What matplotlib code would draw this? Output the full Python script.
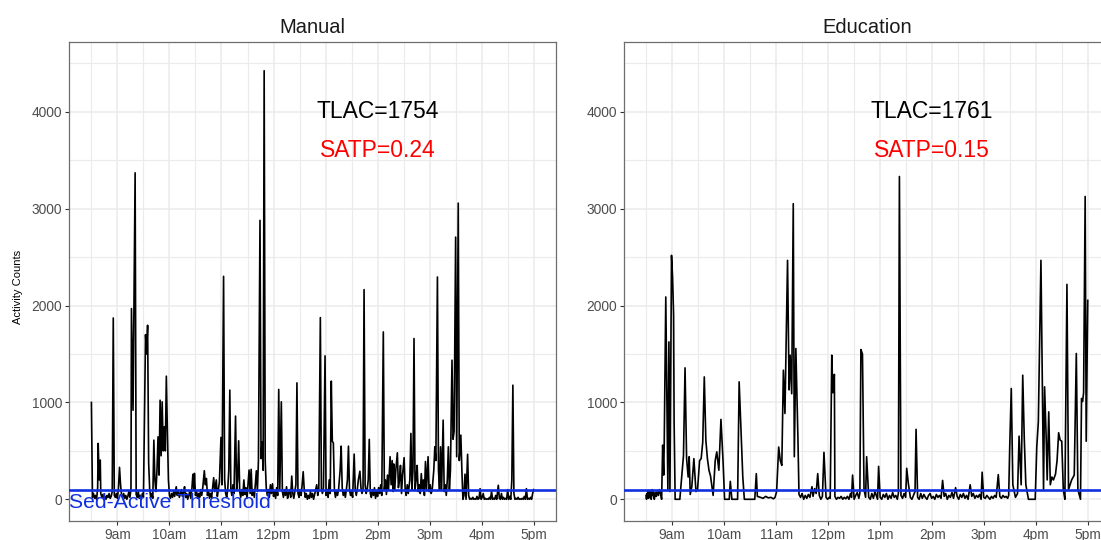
import matplotlib
matplotlib.use("Agg")
import matplotlib.pyplot as plt
from matplotlib.ticker import FixedLocator, MultipleLocator

plt.rcParams['font.family'] = ['Liberation Sans', 'DejaVu Sans']

# hours of day (decimal) and activity counts
manual_time = [
    8.50, 8.52, 8.54, 8.56, 8.58, 8.60, 8.62, 8.63, 8.65, 8.67, 8.68, 8.70, 8.72, 8.74, 8.76, 8.78,
    8.80, 8.82, 8.84, 8.86, 8.88, 8.90, 8.92, 8.94, 8.96, 8.98, 9.00, 9.02, 9.04, 9.06, 9.08, 9.10,
    9.12, 9.14, 9.16, 9.18, 9.20, 9.22, 9.24, 9.26, 9.27, 9.30, 9.34, 9.36, 9.38, 9.40, 9.42, 9.44,
    9.46, 9.48, 9.50, 9.54, 9.56, 9.58, 9.60, 9.62, 9.64, 9.66, 9.68, 9.70, 9.72, 9.74, 9.76, 9.78,
    9.80, 9.82, 9.84, 9.86, 9.88, 9.90, 9.92, 9.94, 9.96, 9.98, 10.00, 10.02, 10.04, 10.06, 10.08,
    10.10, 10.13, 10.15, 10.17, 10.19, 10.21, 10.23, 10.25, 10.27, 10.29, 10.31, 10.33, 10.35,
    10.37, 10.39, 10.41, 10.43, 10.45, 10.47, 10.48, 10.50, 10.52, 10.54, 10.56, 10.58, 10.60,
    10.62, 10.64, 10.67, 10.69, 10.71, 10.73, 10.75, 10.77, 10.79, 10.81, 10.83, 10.85, 10.87,
    10.90, 10.92, 10.94, 10.96, 10.99, 11.01, 11.04, 11.06, 11.08, 11.10, 11.12, 11.14, 11.16,
    11.18, 11.20, 11.22, 11.24, 11.27, 11.29, 11.31, 11.33, 11.35, 11.37, 11.39, 11.41, 11.43,
    11.45, 11.47, 11.49, 11.51, 11.53, 11.55, 11.57, 11.59, 11.61, 11.63, 11.65, 11.67, 11.69,
    11.71, 11.74, 11.76, 11.78, 11.80, 11.82, 11.84, 11.86, 11.88, 11.90, 11.92, 11.94, 11.96,
    11.98, 12.00, 12.02, 12.04, 12.06, 12.08, 12.10, 12.12, 12.15, 12.17, 12.19, 12.21, 12.23,
    12.25, 12.27, 12.29, 12.31, 12.33, 12.35, 12.37, 12.39, 12.41, 12.43, 12.45, 12.47, 12.49,
    12.51, 12.53, 12.55, 12.57, 12.59, 12.61, 12.63, 12.65, 12.67, 12.69, 12.71, 12.73, 12.75,
    12.77, 12.79, 12.81, 12.83, 12.85, 12.87, 12.90, 12.92, 12.94, 12.96, 12.99, 13.01, 13.03,
    13.05, 13.07, 13.09, 13.11, 13.13, 13.15, 13.17, 13.19, 13.21, 13.23, 13.25, 13.28, 13.30,
    13.32, 13.34, 13.36, 13.38, 13.40, 13.42, 13.44, 13.46, 13.48, 13.50, 13.52, 13.55, 13.57,
    13.59, 13.61, 13.63, 13.66, 13.68, 13.70, 13.72, 13.74, 13.76, 13.78, 13.80, 13.82, 13.84,
    13.86, 13.88, 13.90, 13.92, 13.94, 13.96, 13.98, 14.00, 14.02, 14.04, 14.06, 14.08, 14.11,
    14.13, 14.15, 14.17, 14.19, 14.21, 14.24, 14.26, 14.28, 14.30, 14.31, 14.33, 14.35, 14.38,
    14.40, 14.42, 14.44, 14.46, 14.48, 14.51, 14.53, 14.55, 14.57, 14.59, 14.62, 14.64, 14.66,
    14.68, 14.70, 14.72, 14.74, 14.76, 14.78, 14.80, 14.82, 14.84, 14.86, 14.88, 14.90, 14.92,
    14.94, 14.97, 14.99, 15.01, 15.03, 15.05, 15.08, 15.10, 15.12, 15.15, 15.17, 15.19, 15.21,
    15.23, 15.26, 15.28, 15.30, 15.32, 15.34, 15.36, 15.38, 15.40, 15.43, 15.45, 15.47, 15.50,
    15.52, 15.55, 15.57, 15.60, 15.62, 15.64, 15.66, 15.68, 15.70, 15.73, 15.75, 15.77, 15.79,
    15.81, 15.83, 15.85, 15.87, 15.89, 15.91, 15.93, 15.95, 15.97, 15.99, 16.01, 16.03, 16.05,
    16.07, 16.09, 16.11, 16.13, 16.15, 16.17, 16.19, 16.21, 16.23, 16.25, 16.27, 16.29, 16.32,
    16.34, 16.36, 16.38, 16.40, 16.42, 16.44, 16.46, 16.48, 16.50, 16.52, 16.54, 16.56, 16.58,
    16.60, 16.62, 16.64, 16.66, 16.68, 16.70, 16.72, 16.74, 16.76, 16.78, 16.80, 16.82, 16.84,
    16.86, 16.88, 16.90, 16.92, 16.94, 16.96, 16.98, 17.00,
]
manual_counts = [
    1000, 20, 60, 10, 40, 0, 120, 577, 200, 405, 60, 20, 50, 10, 30, 0,
    40, 20, 60, 10, 30, 80, 1872, 40, 20, 60, 10, 120, 330, 150, 40, 20,
    60, 10, 40, 0, 30, 80, 20, 100, 1969, 920, 3371, 50, 20, 80, 10, 40,
    0, 60, 20, 1700, 1500, 1797, 380, 100, 20, 60, 10, 611, 200, 80, 300, 645,
    250, 1023, 450, 1006, 500, 748, 500, 1271, 700, 200, 40, 10, 60, 20, 80,
    30, 130, 40, 90, 20, 60, 100, 30, 70, 130, 20, 60, 0,
    40, 80, 10, 100, 258, 100, 268, 40, 80, 10, 60, 20, 100,
    40, 120, 295, 150, 215, 40, 90, 10, 60, 20, 120, 223, 80,
    200, 30, 100, 180, 639, 150, 2302, 200, 60, 20, 100, 300, 1127,
    100, 40, 150, 60, 859, 100, 200, 604, 80, 20, 100, 40, 200,
    50, 120, 10, 150, 302, 60, 310, 40, 100, 20, 150, 295, 80,
    400, 2880, 420, 590, 300, 4425, 400, 120, 40, 100, 20, 150, 60,
    160, 30, 90, 10, 120, 40, 1134, 100, 1006, 80, 20, 100, 40,
    130, 10, 60, 100, 20, 240, 60, 10, 80, 150, 1202, 60, 20,
    100, 40, 150, 285, 100, 20, 60, 0, 40, 10, 80, 20, 60,
    0, 50, 100, 150, 40, 100, 1876, 100, 60, 120, 1481, 40, 100,
    20, 200, 60, 1220, 600, 580, 100, 20, 80, 40, 100, 300, 549,
    120, 40, 90, 20, 100, 200, 549, 100, 40, 80, 20, 467, 100,
    40, 100, 200, 290, 120, 60, 100, 2165, 150, 60, 100, 200, 619,
    60, 20, 100, 40, 120, 10, 80, 30, 120, 60, 150, 40, 1728,
    100, 200, 50, 250, 100, 440, 150, 400, 80, 365, 100, 300, 480,
    120, 200, 350, 60, 250, 430, 100, 40, 150, 60, 200, 680, 100,
    300, 1660, 100, 200, 350, 80, 150, 60, 265, 100, 200, 40, 390,
    100, 440, 80, 150, 60, 100, 300, 542, 400, 2295, 300, 100, 542,
    100, 817, 80, 150, 40, 200, 542, 100, 300, 1436, 620, 700, 2707,
    440, 3058, 400, 663, 300, 0, 40, 260, 0, 465, 40, 0, 10,
    0, 20, 0, 5, 0, 30, 0, 10, 110, 0, 20, 60, 0,
    10, 0, 5, 0, 20, 0, 80, 0, 10, 0, 40, 0, 145,
    10, 0, 60, 0, 20, 0, 10, 0, 100, 0, 30, 0, 200,
    1178, 60, 0, 10, 0, 20, 0, 5, 0, 10, 0, 30, 0,
    110, 0, 10, 0, 20, 0, 60, 100,
]

education_time = [
    8.50, 8.51, 8.52, 8.53, 8.54, 8.55, 8.56, 8.57, 8.58, 8.59, 8.60, 8.61, 8.62, 8.63, 8.64, 8.65,
    8.66, 8.68, 8.70, 8.72, 8.74, 8.76, 8.78, 8.80, 8.82, 8.84, 8.85, 8.88, 8.92, 8.94, 8.96, 8.99,
    9.01, 9.03, 9.04, 9.06, 9.15, 9.17, 9.22, 9.25, 9.28, 9.31, 9.33, 9.35, 9.38, 9.42, 9.46, 9.49,
    9.53, 9.56, 9.59, 9.62, 9.65, 9.68, 9.71, 9.74, 9.79, 9.83, 9.86, 9.90, 9.94, 9.98, 10.01,
    10.10, 10.12, 10.15, 10.26, 10.29, 10.33, 10.36, 10.39, 10.59, 10.62, 10.64, 10.70, 10.75,
    10.80, 10.85, 10.90, 10.95, 10.98, 11.01, 11.05, 11.08, 11.11, 11.14, 11.17, 11.22, 11.25,
    11.27, 11.30, 11.33, 11.35, 11.38, 11.42, 11.44, 11.47, 11.50, 11.53, 11.56, 11.59, 11.62,
    11.65, 11.69, 11.71, 11.74, 11.77, 11.80, 11.83, 11.86, 11.89, 11.92, 11.96, 11.99, 12.02,
    12.04, 12.07, 12.09, 12.12, 12.13, 12.16, 12.19, 12.22, 12.25, 12.28, 12.31, 12.34, 12.37,
    12.40, 12.43, 12.45, 12.47, 12.50, 12.53, 12.56, 12.59, 12.61, 12.63, 12.66, 12.69, 12.72,
    12.74, 12.78, 12.81, 12.84, 12.87, 12.90, 12.93, 12.95, 12.97, 13.00, 13.03, 13.06, 13.09,
    13.12, 13.15, 13.18, 13.21, 13.24, 13.27, 13.30, 13.33, 13.35, 13.37, 13.40, 13.43, 13.46,
    13.49, 13.51, 13.54, 13.58, 13.61, 13.64, 13.67, 13.69, 13.72, 13.75, 13.78, 13.81, 13.84,
    13.87, 13.90, 13.93, 13.96, 13.99, 14.02, 14.05, 14.08, 14.11, 14.14, 14.17, 14.20, 14.23,
    14.26, 14.29, 14.32, 14.35, 14.38, 14.41, 14.45, 14.48, 14.51, 14.54, 14.57, 14.60, 14.63,
    14.66, 14.69, 14.73, 14.76, 14.79, 14.82, 14.85, 14.88, 14.91, 14.94, 14.96, 14.99, 15.02,
    15.05, 15.08, 15.11, 15.14, 15.17, 15.20, 15.23, 15.27, 15.30, 15.33, 15.36, 15.39, 15.42,
    15.45, 15.47, 15.49, 15.52, 15.55, 15.60, 15.64, 15.67, 15.71, 15.74, 15.77, 15.80, 15.85,
    15.98, 16.01, 16.04, 16.09, 16.12, 16.14, 16.16, 16.19, 16.21, 16.24, 16.27, 16.30, 16.33,
    16.37, 16.40, 16.43, 16.46, 16.49, 16.52, 16.55, 16.59, 16.62, 16.65, 16.68, 16.73, 16.77,
    16.80, 16.85, 16.87, 16.89, 16.91, 16.94, 16.96, 16.99,
]
education_counts = [
    40, 0, 60, 20, 80, 10, 50, 90, 30, 70, 0, 60, 100, 40, 80, 20,
    0, 70, 30, 90, 40, 100, 60, 0, 560, 250, 580, 2089, 100, 1625, 80, 2519,
    2300, 1900, 800, 0, 0, 130, 450, 1357, 420, 230, 440, 50, 130, 420, 80, 100,
    400, 420, 590, 1264, 610, 420, 300, 240, 40, 400, 490, 300, 825, 400, 0,
    0, 185, 0, 0, 1213, 660, 230, 0, 0, 265, 30, 20, 10,
    30, 15, 20, 5, 20, 80, 540, 400, 350, 1333, 886, 2467, 1130,
    1488, 1090, 3052, 440, 1557, 620, 50, 20, 60, 0, 40, 10, 50,
    20, 130, 30, 110, 60, 265, 40, 0, 30, 485, 20, 0, 20,
    10, 1488, 1100, 1290, 30, 0, 20, 10, 30, 0, 20, 5, 30,
    0, 60, 20, 250, 0, 40, 70, 10, 60, 1546, 1500, 100, 20,
    440, 20, 0, 60, 10, 80, 30, 0, 340, 20, 0, 50, 20,
    60, 0, 40, 10, 70, 20, 40, 0, 60, 3333, 40, 10, 60,
    20, 320, 170, 20, 0, 40, 80, 722, 20, 0, 60, 10, 50,
    20, 0, 40, 60, 10, 30, 0, 50, 20, 40, 10, 195, 30,
    60, 0, 40, 20, 70, 10, 120, 30, 0, 50, 20, 60, 10,
    40, 0, 150, 30, 60, 10, 40, 20, 50, 0, 280, 20, 10,
    40, 20, 0, 30, 10, 40, 20, 255, 30, 10, 40, 20, 30,
    10, 40, 540, 1144, 150, 20, 60, 652, 150, 1281, 620, 150, 0,
    0, 540, 800, 2467, 1090, 100, 1161, 650, 200, 903, 150, 230, 200,
    260, 400, 687, 610, 600, 100, 0, 2219, 100, 150, 200, 250, 1505,
    100, 0, 1041, 1010, 1100, 3127, 600, 2054,
]

panels = ["Manual", "Education"]
tlac = [1754, 1761]
satp = [0.24, 0.15]
threshold = 100
hour_ticks = [9, 10, 11, 12, 13, 14, 15, 16, 17]
hour_labels = ["9am", "10am", "11am", "12pm", "1pm", "2pm", "3pm", "4pm", "5pm"]

W, H = 1101, 540
fig = plt.figure(figsize=(W / 100, H / 100), dpi=100)

top_px, bot_px = 41.7, 520.7
width_px = 486.5
lefts_px = [69.3, 623.9]
series = [(manual_time, manual_counts), (education_time, education_counts)]

for i, name in enumerate(panels):
    ax = fig.add_axes([lefts_px[i] / W, 1 - bot_px / H, width_px / W, (bot_px - top_px) / H])
    t, c = series[i]
    ax.set_xlim(8.075, 17.425)
    ax.set_ylim(-221, 4725)

    ax.xaxis.set_major_locator(FixedLocator(hour_ticks))
    ax.set_xticklabels(hour_labels)
    ax.xaxis.set_minor_locator(MultipleLocator(0.5))
    ax.yaxis.set_major_locator(MultipleLocator(1000))
    ax.yaxis.set_minor_locator(MultipleLocator(500))

    ax.grid(which="major", color="#EBEBEB", lw=1.1, zorder=0)
    ax.grid(which="minor", color="#EBEBEB", lw=0.8, zorder=0)
    ax.set_axisbelow(True)
    ax.tick_params(which="major", length=3, width=0.8, color="#333333",
                   labelcolor="#4D4D4D", labelsize=9.9, pad=2)
    ax.tick_params(which="minor", length=0)
    for s in ax.spines.values():
        s.set_color("#6E6E6E")
        s.set_linewidth(0.9)

    ax.plot(t, c, color="black", lw=1.2, zorder=3)
    ax.axhline(threshold, color="#1030E0", lw=1.9, zorder=4)

    ax.text(14, 4000, f"TLAC={tlac[i]}", fontsize=16.5, ha="center", va="center", color="black")
    ax.text(14, 3600, f"SATP={satp[i]}", fontsize=16.5, ha="center", va="center", color="#FF0000")
    ax.set_title(name, fontsize=14.5, pad=6, color="#1A1A1A")

    if i == 0:
        ax.text(8.06, -95, "Sed-Active Threshold", fontsize=15.2, color="#1030E0",
                ha="left", va="baseline", zorder=5)

fig.text(18 / W, 1 - 287 / H, "Activity Counts", rotation=90, fontsize=8,
         ha="center", va="center", color="black")

fig.savefig("out.png", dpi=100)
